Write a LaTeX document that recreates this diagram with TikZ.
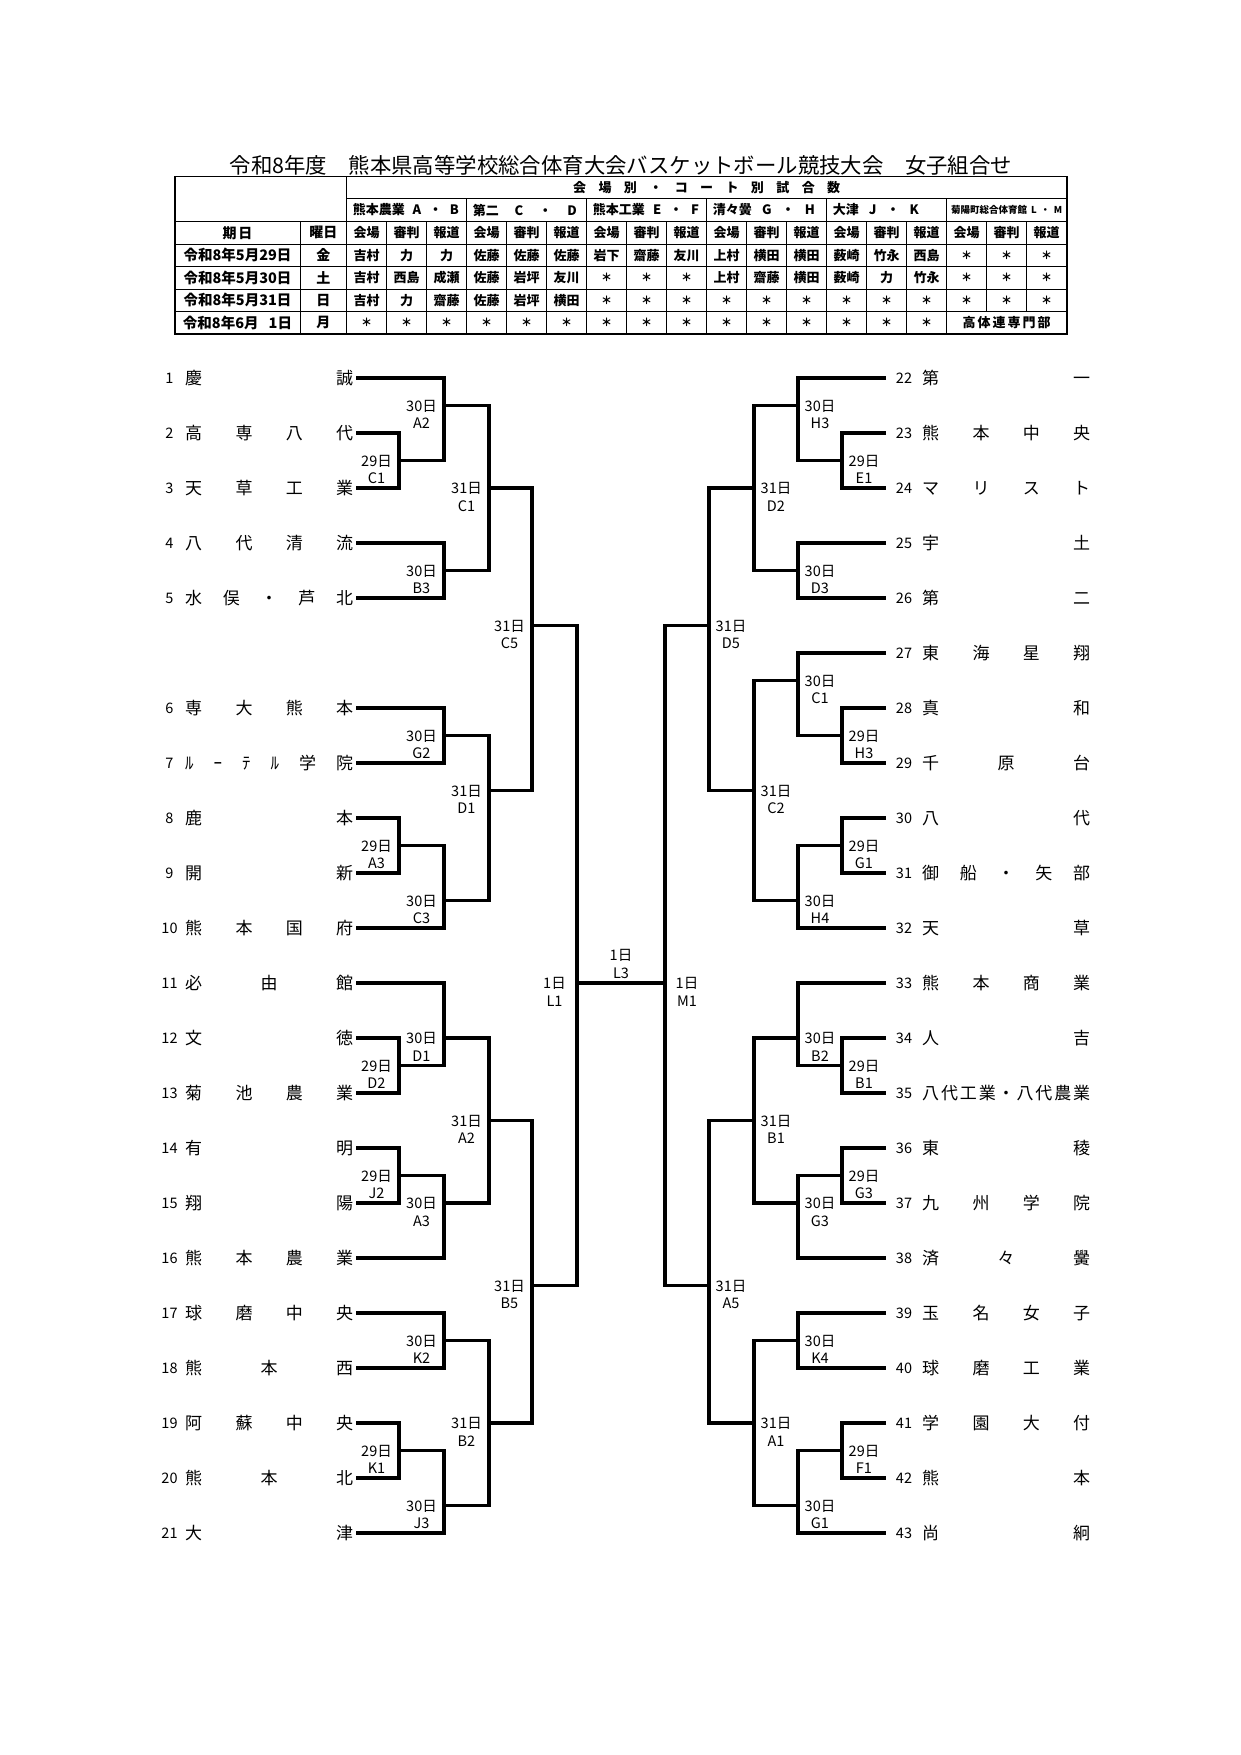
\documentclass[tikz,border=0pt]{standalone}
\usepackage{fontspec}
\setmainfont{Noto Sans CJK JP}
\makeatletter
\def\jn@end{\jn@end}
\def\jn@loop#1{\ifx\jn@end#1\else\hfill#1\expandafter\jn@loop\fi}
\def\jn@first#1{#1\jn@loop}
\newcommand\spreadbox[2]{\hbox to #1{\expandafter\jn@first#2\jn@end}}
\makeatother
\newcommand\ak{{\fontsize{11}{11}\selectfont ＊}}
\newcommand\match[8]{%
  \coordinate (#1) at (#2,{378+55*#3});
  \draw[br] (#4) -| (#1) |- (#5);
  \node[lab] (#1-l) at ([xshift=#6pt,yshift=-8.75pt]#1) {#7\\#8};
}
\tikzset{
  br/.style={line width=3.4pt},
  tnum/.style={inner sep=0pt, font=\fontsize{14.5}{17}\selectfont},
  tname/.style={inner sep=0pt, anchor=west, font=\fontsize{17}{20}\selectfont},
  lab/.style={inner sep=0pt, align=center, font=\fontsize{14.5}{17.5}\selectfont},
  cell/.style={inner sep=0pt, font=\bfseries\fontsize{13}{15}\selectfont},
  dcell/.style={inner sep=0pt, font=\bfseries\fontsize{14.5}{17}\selectfont},
  wcell/.style={inner sep=0pt, font=\bfseries\fontsize{14}{17}\selectfont},
  tin/.style={line width=0.8pt},
  tout/.style={line width=1.6pt}
}
\begin{document}
\begin{tikzpicture}[x=1pt,y=-1pt]
\useasboundingbox (0,0) rectangle (1241,1755);
% title
\node[inner sep=0pt, font=\fontsize{21.4}{24}\selectfont] (title) at (621,165)
  {令和8年度　熊本県高等学校総合体育大会バスケットボール競技大会　女子組合せ};
% table lines
\draw[tin] (346.7,198.3) -- (1066.7,198.3);
\foreach \yy in {221.7,244,266.7,289,311.7} \draw[tin] (175,\yy) -- (1066.7,\yy);
\draw[tin] (300,221.7) -- (300,334);
\draw[tin] (346.7,176.7) -- (346.7,334);
\foreach \k in {3,6,9,12,15} \draw[tin] ({346.7+40*\k},198.3) -- ({346.7+40*\k},334);
\foreach \k in {1,2,4,5,7,8,10,11,13,14} \draw[tin] ({346.7+40*\k},221.7) -- ({346.7+40*\k},334);
\foreach \k in {16,17} \draw[tin] ({346.7+40*\k},221.7) -- ({346.7+40*\k},311.7);
\draw[tout] (175,176.7) rectangle (1066.7,334);
% table header
\node[cell] (hdr) at (706.7,187.5) {\spreadbox{267pt}{会場別・コート別試合数}};
\foreach \g/\a/\b/\c/\w in {0/熊本農業/A/B/106, 1/第二/C/D/104, 2/熊本工業/E/F/106, 3/清々黌/G/H/102, 4/大津/J/K/86}
  \node[cell,anchor=west] (v\g) at ({346.7+120*\g+6},210) {\hbox to \w pt{\a\hfill\b\hfill・\hfill\c}};
\node[cell,anchor=west,font=\bfseries\fontsize{9.5}{11}\selectfont] (v5) at (951,210)
  {\hbox to 111pt{菊陽町総合体育館\hfill L\hfill・\hfill M}};
\node[wcell] (h1) at (237.5,232.8) {期\hspace{2pt}日};
\node[wcell] (h2) at (323.3,232.8) {曜日};
\foreach \k in {0,...,5} {
  \node[cell] (hA\k) at ({366.7+120*\k},232.8) {会場};
  \node[cell] (hB\k) at ({406.7+120*\k},232.8) {審判};
  \node[cell] (hC\k) at ({446.7+120*\k},232.8) {報道};
}
% table rows
\node[dcell] (d1) at (237.5,255.3) {令和8年5月29日};
\node[wcell] (w1) at (323.3,255.3) {金};
\foreach \v [count=\k from 0] in {吉村,力,力,佐藤,佐藤,佐藤,岩下,齋藤,友川,上村,横田,横田,薮崎,竹永,西島,\ak,\ak,\ak}
  \node[cell] (a\k) at ({366.7+40*\k},255.3) {\v};
\node[dcell] (d2) at (237.5,277.8) {令和8年5月30日};
\node[wcell] (w2) at (323.3,277.8) {土};
\foreach \v [count=\k from 0] in {吉村,西島,成瀬,佐藤,岩坪,友川,\ak,\ak,\ak,上村,齋藤,横田,薮崎,力,竹永,\ak,\ak,\ak}
  \node[cell] (b\k) at ({366.7+40*\k},277.8) {\v};
\node[dcell] (d3) at (237.5,300.3) {令和8年5月31日};
\node[wcell] (w3) at (323.3,300.3) {日};
\foreach \v [count=\k from 0] in {吉村,力,齋藤,佐藤,岩坪,横田,\ak,\ak,\ak,\ak,\ak,\ak,\ak,\ak,\ak,\ak,\ak,\ak}
  \node[cell] (c\k) at ({366.7+40*\k},300.3) {\v};
\node[dcell] (d4) at (237.5,322.8) {令和8年6月\hspace{0.7em}1日};
\node[wcell] (w4) at (323.3,322.8) {月};
\foreach \k in {0,...,14}
  \node[cell] (e\k x) at ({366.7+40*\k},322.8) {\ak};
\node[cell] (hq) at (1006.7,322.8) {\spreadbox{88pt}{高体連専門部}};
% teams left
\foreach \n/\r/\nm in {1/0/慶誠, 2/1/高専八代, 3/2/天草工業, 4/3/八代清流, 5/4/水俣・芦北,
   6/6/専大熊本, 7/7/ﾙｰﾃﾙ学院, 8/8/鹿本, 9/9/開新, 10/10/熊本国府, 11/11/必由館,
   12/12/文徳, 13/13/菊池農業, 14/14/有明, 15/15/翔陽, 16/16/熊本農業, 17/17/球磨中央,
   18/18/熊本西, 19/19/阿蘇中央, 20/20/熊本北, 21/21/大津} {
  \pgfmathsetmacro\yy{378+55*\r}
  \node[tnum] (n\n) at (169.5,\yy) {\n};
  \node[tname] (t\n) at (185,\yy) {\spreadbox{168pt}{\nm}};
  \coordinate (e\n) at (356,\yy);
}
% teams right
\foreach \n/\r/\nm in {22/0/第一, 23/1/熊本中央, 24/2/マリスト, 25/3/宇土, 26/4/第二,
   27/5/東海星翔, 28/6/真和, 29/7/千原台, 30/8/八代, 31/9/御船・矢部, 32/10/天草,
   33/11/熊本商業, 34/12/人吉, 35/13/八代工業・八代農業, 36/14/東稜, 37/15/九州学院,
   38/16/済々黌, 39/17/玉名女子, 40/18/球磨工業, 41/19/学園大付, 42/20/熊本, 43/21/尚絅} {
  \pgfmathsetmacro\yy{378+55*\r}
  \node[tnum] (n\n) at (904,\yy) {\n};
  \node[tname] (t\n) at (922,\yy) {\spreadbox{168pt}{\nm}};
  \coordinate (e\n) at (886,\yy);
}
% left bracket
\match{mA}{399}{1.5}{e2}{e3}{-22.5}{29日}{C1}
\match{mB}{444}{0.5}{e1}{mA}{-22.5}{30日}{A2}
\match{mC}{444}{3.5}{e4}{e5}{-22.5}{30日}{B3}
\match{mD}{489}{2}{mB}{mC}{-22.5}{31日}{C1}
\match{mE}{444}{6.5}{e6}{e7}{-22.5}{30日}{G2}
\match{mF}{399}{8.5}{e8}{e9}{-22.5}{29日}{A3}
\match{mG}{444}{9.5}{mF}{e10}{-22.5}{30日}{C3}
\match{mH}{489}{7.5}{mE}{mG}{-22.5}{31日}{D1}
\match{mI}{532}{4.5}{mD}{mH}{-22.5}{31日}{C5}
\match{mJ}{399}{12.5}{e12}{e13}{-22.5}{29日}{D2}
\match{mK}{444}{12}{e11}{mJ}{-22.5}{30日}{D1}
\match{mL}{399}{14.5}{e14}{e15}{-22.5}{29日}{J2}
\match{mM}{444}{15}{mL}{e16}{-22.5}{30日}{A3}
\match{mN}{489}{13.5}{mK}{mM}{-22.5}{31日}{A2}
\match{mO}{444}{17.5}{e17}{e18}{-22.5}{30日}{K2}
\match{mP}{399}{19.5}{e19}{e20}{-22.5}{29日}{K1}
\match{mQ}{444}{20.5}{mP}{e21}{-22.5}{30日}{J3}
\match{mR}{489}{19}{mO}{mQ}{-22.5}{31日}{B2}
\match{mS}{532}{16.5}{mN}{mR}{-22.5}{31日}{B5}
\match{mT}{577}{11}{mI}{mS}{-22.5}{1日}{L1}
% right bracket
\match{nA}{842}{1.5}{e23}{e24}{22}{29日}{E1}
\match{nB}{798}{0.5}{e22}{nA}{22}{30日}{H3}
\match{nC}{798}{3.5}{e25}{e26}{22}{30日}{D3}
\match{nD}{754}{2}{nB}{nC}{22}{31日}{D2}
\match{nE}{842}{6.5}{e28}{e29}{22}{29日}{H3}
\match{nF}{798}{5.5}{e27}{nE}{22}{30日}{C1}
\match{nG}{842}{8.5}{e30}{e31}{22}{29日}{G1}
\match{nH}{798}{9.5}{nG}{e32}{22}{30日}{H4}
\match{nI}{754}{7.5}{nF}{nH}{22}{31日}{C2}
\match{nJ}{709}{4.5}{nD}{nI}{22}{31日}{D5}
\match{nK}{842}{12.5}{e34}{e35}{22}{29日}{B1}
\match{nL}{798}{12}{e33}{nK}{22}{30日}{B2}
\match{nM}{842}{14.5}{e36}{e37}{22}{29日}{G3}
\match{nN}{798}{15}{nM}{e38}{22}{30日}{G3}
\match{nO}{754}{13.5}{nL}{nN}{22}{31日}{B1}
\match{nP}{798}{17.5}{e39}{e40}{22}{30日}{K4}
\match{nQ}{842}{19.5}{e41}{e42}{22}{29日}{F1}
\match{nR}{798}{20.5}{nQ}{e43}{22}{30日}{G1}
\match{nS}{754}{19}{nP}{nR}{22}{31日}{A1}
\match{nT}{709}{16.5}{nO}{nS}{22}{31日}{A5}
\match{nU}{665}{11}{nJ}{nT}{22}{1日}{M1}
% final
\draw[br] (mT) -- (nU);
\node[lab] (fin-l) at (621,964) {1日\\L3};
\end{tikzpicture}
\end{document}
